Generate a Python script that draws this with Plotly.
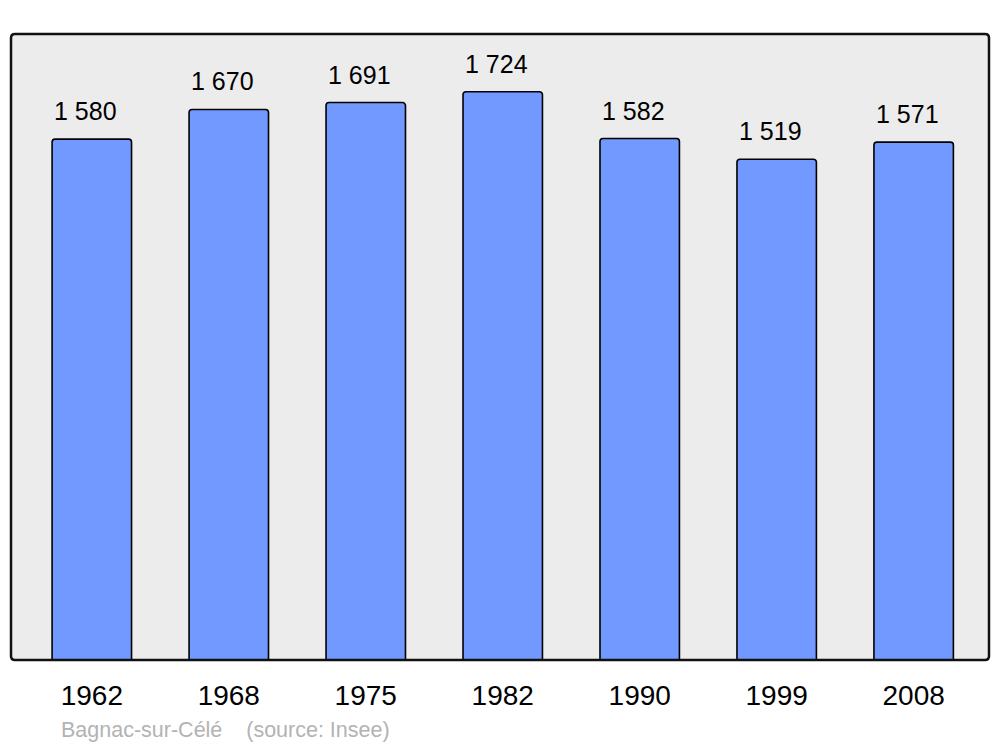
import plotly.graph_objects as go

years = ["1962", "1968", "1975", "1982", "1990", "1999", "2008"]
population = [1580, 1670, 1691, 1724, 1582, 1519, 1571]
value_labels = ["1 580", "1 670", "1 691", "1 724", "1 582", "1 519", "1 571"]
source_text = "Bagnac-sur-Célé    (source: Insee)"

W, H = 1000, 747
ML, MR, MT, MB = 11, 11, 34, 87

fig = go.Figure()

fig.add_trace(go.Bar(
    x=years,
    y=population,
    width=0.58,
    marker=dict(color="#7299ff", line=dict(color="#000000", width=1.6), cornerradius=3),
    hoverinfo="x+y",
))

# value labels, placed by category index
for i, (val, lab) in enumerate(zip(population, value_labels)):
    fig.add_annotation(
        x=i, y=val, text=lab, showarrow=False,
        yanchor="bottom", xshift=-6, yshift=12,
        font=dict(size=25, color="#000000"),
    )

fig.add_annotation(
    xref="paper", yref="paper", x=48 / (W - ML - MR), y=-70 / (H - MT - MB),
    xanchor="left", yanchor="middle", showarrow=False,
    text=source_text, font=dict(size=21.5, color="#b3b3b3"),
)

# rounded frame of the plot area (paper coords, radius ~4px)
rx = 4 / (W - ML - MR)
ry = 4 / (H - MT - MB)
frame = (
    f"M {rx},0 L {1 - rx},0 Q 1,0 1,{ry} L 1,{1 - ry} Q 1,1 {1 - rx},1 "
    f"L {rx},1 Q 0,1 0,{1 - ry} L 0,{ry} Q 0,0 {rx},0 Z"
)
fig.add_shape(type="path", xref="paper", yref="paper", path=frame,
              fillcolor="#ececec", line=dict(width=0), layer="below")
fig.add_shape(type="path", xref="paper", yref="paper", path=frame,
              line=dict(color="#111111", width=2.5), layer="above")

fig.update_layout(
    width=W, height=H,
    margin=dict(l=ML, r=MR, t=MT, b=MB),
    paper_bgcolor="#ffffff",
    plot_bgcolor="rgba(0,0,0,0)",
    font=dict(family="Liberation Sans, Arial, sans-serif", color="#000000"),
    showlegend=False,
    xaxis=dict(
        type="category", range=[-0.59, 6.55],
        showgrid=False, zeroline=False, showline=False,
        ticks="", tickfont=dict(size=28), ticklabelstandoff=16,
        fixedrange=True,
    ),
    yaxis=dict(
        range=[0, 1899], visible=False, showgrid=False, zeroline=False,
        fixedrange=True,
    ),
)

fig.write_html("out.html", config={"displayModeBar": False},
               post_script="document.body.style.margin='0';")
